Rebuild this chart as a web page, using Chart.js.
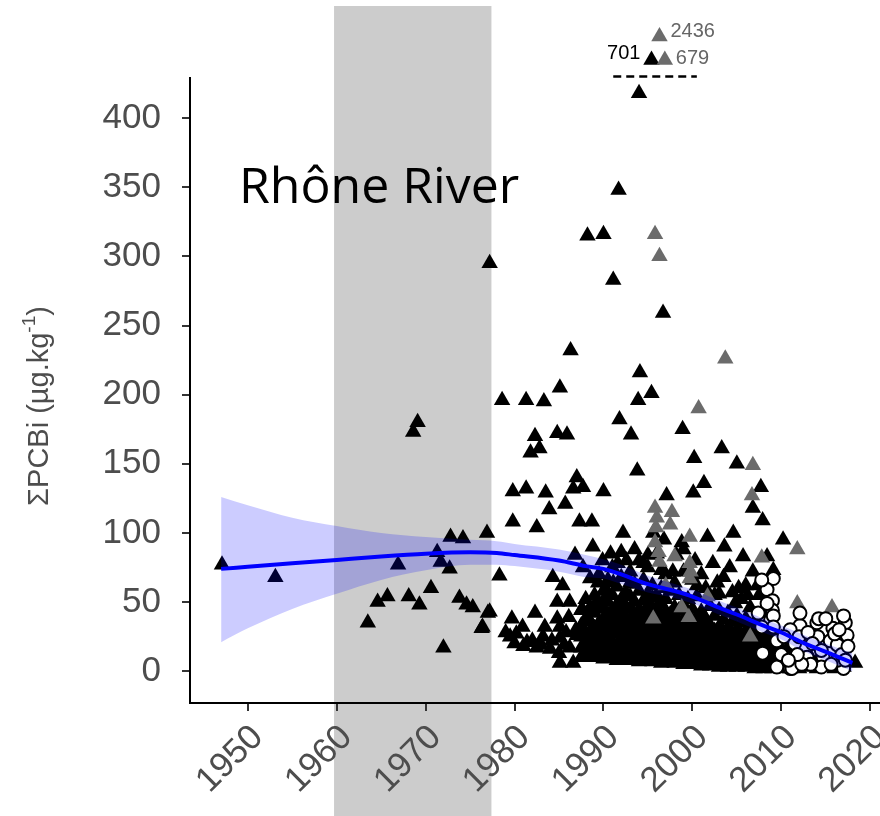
<!DOCTYPE html>
<html><head><meta charset="utf-8">
<script src="https://cdn.jsdelivr.net/npm/chart.js@4.4.0/dist/chart.umd.min.js"></script>
<style>html,body{margin:0;padding:0;background:#fff}</style>
</head><body>
<canvas id="c" width="880" height="816" style="display:block;width:880px;height:816px"></canvas>
<script>
// ---------- data ----------
const xTickValues = [1950, 1960, 1970, 1980, 1990, 2000, 2010, 2020];
const yTickValues = [0, 50, 100, 150, 200, 250, 300, 350, 400];
const shadedPeriod = [1959.7, 1977.4];
const panelLabel = "Rhône River";

// isolated black triangles [year, ΣPCBi]
const blackPoints = [
 [1947.1,77],[1953.1,68],[1963.5,35],[1964.6,50],[1965.7,54],[1966.9,77],[1968.1,54],[1968.6,173],[1969.1,180],
 [1969.3,48],[1970.6,60],[1971.3,86],[1971.7,79],[1972.0,17],[1972.7,74],[1972.8,97],[1973.8,53],[1974.2,96],
 [1974.6,48],[1975.3,46],[1976.3,31],[1976.9,100],[1977.0,42],[1977.2,295],[1978.3,69],
 [1986.3,232],[1988.2,315],[1990.0,316],[1991.7,348],[1991.1,283],[1994.0,418],[1996.7,259],[1994.1,216],
 [1995.4,201],[1993.9,196],[1985.1,205],[1978.6,196],[1981.3,196],[1983.3,195],[1991.8,182],[1993.1,171],
 [1998.9,175],[1982.3,170],[1984.8,172],[1985.9,171],[1982.8,161],[1981.8,158],[2003.3,161],[2000.2,154],
 [1993.8,145],[1987.0,140],[1986.6,132],[1987.7,133],[1979.8,130],[1981.3,132],[1983.5,129],[1990.0,130],
 [2001.3,136],[2000.1,129],[1997.1,127],[1983.9,117],[1985.7,121],[1979.8,108],[1982.5,104],[1987.3,108],
 [1988.7,108],[2005.0,150],[2007.7,133],[2006.8,118],[2007.9,109],[2010.2,95],[2004.6,100],[2001.7,97],
 [1992.2,100],[1995.6,100],[1998.8,93],[2005.7,83],[2008.4,83],[2002.3,78],[2004.2,75],[2006.8,72],
 [2009.1,73],[2000.5,62],[2004.8,49],[1988.8,90],[1986.8,84],[1987.7,75],[1992.0,86],[1992.6,80],
 [1984.3,68],[1985.4,62],[1989.4,64],[1990.2,60],[1991.1,64],[1984.8,50],[1986.2,50],[1989.3,51],
 [1990.2,53],[1977.2,43],[1976.4,32],[1979.7,38],[1982.3,42],[1984.8,38],[1986.1,39],[1980.9,32],
 [1983.4,32],[1985.1,32],[1989.3,32],[1990.7,33],[1991.8,37],[1979.5,25],[1981.4,21],[1983.2,25],
 [1985.1,24],[1987.0,26],[1988.5,20],[1990.4,22],[1992.2,22],[1982.5,17],[1986.2,17],[1989.3,15],
 [1991.5,15],[1985.1,6],[1986.6,6],[1979.0,28],[1980.0,20],[1980.2,27],[1981.0,18],[1982.0,22],
 [1983.0,19],[1984.0,16],[1984.2,22],[1985.0,13],[1985.6,19],[2013.4,9],[2018.3,6],
 [1993.5,88],[1994.5,78],[1996.5,73],[1997.8,72],[1996.8,95],[1999.0,88],[2000.3,80],[2002.8,64],
 [2003.6,90],[2005.2,60],[2006.2,55],[2007.3,62],[1989.9,80],[1990.8,85],[1991.6,78],[1998.2,84],
 [2001.0,70],[2003.0,56],[1995.0,84],[1993.0,64],[1987.6,45],[1988.3,38],[1986.9,30],[1985.8,28]
];

// dense black cloud: [year, values at that year]
const blackColumns = [
 [1987.5,[10,17,25,33,44]],[1988.0,[11,19,27,38,52]],[1988.5,[13,21,29,36,46,67]],
 [1989.0,[10,16,24,31,42,55]],[1989.5,[12,20,28,35,47,70]],[1990.0,[9,15,23,30,38,45,58]],
 [1990.5,[11,18,26,33,41,50,66]],[1991.0,[10,14,21,29,36,44,55,75]],[1991.5,[8,13,19,27,34,40,48,61]],
 [1992.0,[9,16,22,28,35,43,52,68]],[1992.5,[11,15,20,26,31,39,47,57]],[1993.0,[8,13,18,24,30,37,45,54,72]],
 [1993.5,[10,14,19,25,33,41,50,63]],[1994.0,[7,12,17,22,28,35,44,58,80]],[1994.5,[9,13,18,23,29,36,42,51,66]],
 [1995.0,[8,11,16,21,27,33,39,47,56,75]],[1995.5,[7,12,17,24,30,37,45,53,62]],[1996.0,[9,13,19,25,31,38,46,55,85]],
 [1996.5,[6,10,15,20,26,32,40,49,60]],[1997.0,[8,12,17,22,28,35,43,52,70]],[1997.5,[7,11,16,21,27,34,41,58]],
 [1998.0,[6,10,14,19,25,31,38,46,64]],[1998.5,[8,12,17,23,29,36,44,55]],[1999.0,[5,9,13,18,24,30,37,48,72]],
 [1999.5,[7,11,15,20,26,33,42,52]],[2000.0,[5,8,12,17,22,28,35,45,66]],[2000.5,[6,10,14,19,25,31,39,54]],
 [2001.0,[4,8,12,16,21,27,34,43]],[2001.5,[6,9,13,18,23,30,38,60]],[2002.0,[4,7,11,15,20,26,33,47]],
 [2002.5,[5,8,12,17,22,29,40,55]],[2003.0,[3,7,10,14,19,25,32,44]],[2003.5,[5,8,12,16,21,28,37,68]],
 [2004.0,[3,6,10,14,18,24,31,42]],[2004.5,[4,7,11,15,20,27,36,57]],[2005.0,[3,6,9,13,17,23,30,40]],
 [2005.5,[4,7,10,14,19,26,35,52]],[2006.0,[3,5,8,12,16,22,29,38,62]],[2006.5,[4,6,9,13,18,24,33,46]],
 [2007.0,[2,5,8,11,15,20,27,36]],[2007.5,[3,6,9,13,17,23,31,55]],[2008.0,[2,4,7,10,14,19,26,42]],
 [2008.5,[3,5,8,12,16,22,30]],[2009.0,[2,4,6,9,13,18,25,35]],[2009.5,[3,5,8,11,15,21]],
 [2010.0,[2,4,6,9,12,17,24]],[2010.5,[3,5,8,11,14]],[2011.0,[2,4,7,10,13,19]],[2011.5,[3,5,8]],
 [2012.0,[2,4,6,9]],[2013.0,[3,5,8]],[2014.0,[2,4,7]],[2015.0,[3,5]],[2016.0,[2,4]],[2017.0,[3]]
];

// grey triangles
const greyPoints = [
 [1995.8,316],[1996.3,300],[2003.7,226],[2000.7,190],[2006.8,149],[2006.7,127],[1995.8,118],[1997.7,115],
 [1996.0,111],[1997.5,106],[1995.9,104],[1995.8,93],[1999.7,97],[2007.8,82],[2011.8,88],[1996.3,79],
 [1996.2,86],[1998.0,83],[1999.7,78],[1999.8,72],[1999.7,67],[2001.7,54],[1995.6,38],[1998.8,46],
 [1999.6,39],[2006.5,25],[2011.8,49],[2015.7,46],[1997.0,62]
];

// open circles
const circlePoints = [
 [2009.1,67],[2008.4,59],[2009.0,51],[2009.0,44],[2008.8,37],[2007.8,66],[2008.4,49],[2007.4,42],[2009.1,40],
 [2009.1,32],[2007.8,32],[2009.5,22],[2007.9,13],[2009.5,3],[2011.0,2],[2012.5,10],[2012.1,33],[2014.0,35],
 [2015.8,31],[2017.2,35],[2011.0,30],[2014.1,25],[2015.5,22],[2012.7,17],[2016.3,19],[2017.4,26],[2012.9,10],
 [2014.7,10],[2011.2,2],[2017.0,2],[2014.5,3],[2016.3,8],[2012.1,42],[2014.2,38],[2017.0,40],[2010.0,12],
 [2010.3,25],[2011.5,20],[2012.0,25],[2013.0,28],[2013.5,20],[2014.5,15],[2015.0,38],[2016.0,27],[2016.8,12],
 [2017.5,18],[2013.3,5],[2015.6,5],[2016.5,30],[2017.2,8],[2012.3,5],[2011.8,12],[2010.8,8]
];

// smoothed trend and its confidence band
const trendYears = [1947,1950,1955,1960,1965,1970,1975,1978,1980,1985,1988,1990,1992,1995,1998,2000,2003,2005,2008,2010,2013,2015,2018];
const trendValues = [74,75.5,78,80.5,83,85,86,85.5,84,80,76,74,70,63,58,54,46,41,33,28,19,14,6];
const ciUpper = [126,120,111,105,100,97,95,94,92,88,84,81,77,69,63,59,51,46,38,33,25,20,13];
const ciLower = [21,31,45,56,66,73,77,77,76,72,68,67,63,57,53,49,41,36,28,23,13,8,0];

// values beyond the axis break (shown above the dashed line)
const outlierYears = [1995.4, 1996.9, 1996.3];
const outlierShownAt = [442, 442, 459];
const outlierTrue = ["701", "679", "2436"];
const outlierGrey = [false, true, true];
const breakSpan = [1991.1, 2000.5];
const breakLevel = 430;

// ---------- build datasets ----------
const toXY = a => a.map(p => ({x: p[0], y: p[1]}));
const blackData = toXY(blackPoints).concat(
  blackColumns.flatMap(c => c[1].map(v => ({x: c[0], y: v}))));
const trendData = trendYears.map((y, i) => ({x: y, y: trendValues[i]}));
const upperData = trendYears.map((y, i) => ({x: y, y: ciUpper[i]}));
const lowerData = trendYears.map((y, i) => ({x: y, y: ciLower[i]}));

const TXT = '#4d4d4d';
const GREY_PT = '#6b6b6b';
const FONT = '"Liberation Sans", Arial, sans-serif';
const TRI_R = 9.5;

function triangle(ctx, cx, cy, r, color) {
  ctx.fillStyle = color;
  ctx.beginPath();
  for (let k = 0; k < 3; k++) {
    const a = k * 2 * Math.PI / 3;
    const px = cx + Math.sin(a) * r, py = cy - Math.cos(a) * r;
    if (k === 0) ctx.moveTo(px, py); else ctx.lineTo(px, py);
  }
  ctx.closePath();
  ctx.fill();
}

const decor = {
  id: 'decor',
  beforeDraw(chart) {
    const {ctx, scales: {x}} = chart;
    ctx.save();
    ctx.fillStyle = '#ffffff';
    ctx.fillRect(0, 0, chart.width, chart.height);
    ctx.fillStyle = '#cccccc';
    const x0 = x.getPixelForValue(shadedPeriod[0]), x1 = x.getPixelForValue(shadedPeriod[1]);
    ctx.fillRect(x0, 6, x1 - x0, chart.height - 6);
    ctx.restore();
  },
  afterDatasetsDraw(chart) {
    const {ctx, scales: {x, y}} = chart;
    ctx.save();
    // panel label
    ctx.fillStyle = '#000';
    ctx.font = '50px "Open Sans", sans-serif';
    ctx.textBaseline = 'alphabetic';
    ctx.textAlign = 'left';
    ctx.fillText(panelLabel, x.getPixelForValue(1949.0), y.getPixelForValue(338.5));
    // axis break dashed line
    ctx.strokeStyle = '#000';
    ctx.lineWidth = 2.5;
    ctx.setLineDash([8, 5]);
    ctx.beginPath();
    const by = y.getPixelForValue(breakLevel);
    ctx.moveTo(x.getPixelForValue(breakSpan[0]), by);
    ctx.lineTo(x.getPixelForValue(breakSpan[1]), by);
    ctx.stroke();
    ctx.setLineDash([]);
    // off-scale points and their true values
    ctx.font = '20px ' + FONT;
    ctx.textBaseline = 'middle';
    outlierYears.forEach((yr, i) => {
      const px = x.getPixelForValue(yr), py = y.getPixelForValue(outlierShownAt[i]);
      triangle(ctx, px, py, TRI_R, outlierGrey[i] ? GREY_PT : '#000');
    });
    outlierYears.forEach((yr, i) => {
      const px = x.getPixelForValue(yr), py = y.getPixelForValue(outlierShownAt[i]);
      if (outlierGrey[i]) {
        ctx.fillStyle = '#666';
        ctx.textAlign = 'left';
        ctx.fillText(outlierTrue[i], px + 11, py - (i === 2 ? 5 : 2));
      } else {
        ctx.fillStyle = '#000';
        ctx.textAlign = 'right';
        ctx.fillText(outlierTrue[i], px - 11, py - 7);
      }
    });
    ctx.restore();
  },
  afterDraw(chart) {
    const {ctx} = chart;
    ctx.save();
    ctx.translate(40, 406);
    ctx.rotate(-Math.PI / 2);
    ctx.fillStyle = TXT;
    ctx.textBaseline = 'middle';
    const big = '29px ' + FONT, small = '19px ' + FONT;
    const parts = [['ΣPCBi (µg.kg', big, 0], ['-1', small, -10], [')', big, 0]];
    let total = 0;
    parts.forEach(p => { ctx.font = p[1]; total += ctx.measureText(p[0]).width; });
    let cx = -total / 2;
    ctx.textAlign = 'left';
    parts.forEach(p => { ctx.font = p[1]; ctx.fillText(p[0], cx, p[2]); cx += ctx.measureText(p[0]).width; });
    ctx.restore();
  }
};

new Chart(document.getElementById('c'), {
  type: 'scatter',
  data: {datasets: [
    {data: trendData, showLine: true, borderColor: '#0000ff', borderWidth: 4, pointRadius: 0,
     cubicInterpolationMode: 'monotone', fill: false, order: 0},
    {data: lowerData, showLine: true, borderWidth: 0, borderColor: 'rgba(0,0,0,0)', pointRadius: 0,
     cubicInterpolationMode: 'monotone', fill: false, order: 1},
    {data: upperData, showLine: true, borderWidth: 0, borderColor: 'rgba(0,0,0,0)', pointRadius: 0,
     cubicInterpolationMode: 'monotone', fill: '-1', backgroundColor: 'rgba(0,0,255,0.2)', order: 1},
    {data: toXY(circlePoints), pointStyle: 'circle', pointRadius: 6.5, backgroundColor: '#fff',
     borderColor: '#000', borderWidth: 2, order: 3},
    {data: toXY(greyPoints), pointStyle: 'triangle', pointRadius: TRI_R, backgroundColor: GREY_PT,
     borderWidth: 0, order: 4},
    {data: blackData, pointStyle: 'triangle', pointRadius: TRI_R, backgroundColor: '#000',
     borderWidth: 0, order: 5}
  ]},
  options: {
    responsive: false, animation: false, devicePixelRatio: 1,
    layout: {autoPadding: false, padding: {top: 78, left: 0, right: 0, bottom: 0}},
    plugins: {legend: {display: false}, tooltip: {enabled: false}},
    elements: {point: {hoverRadius: 0}},
    scales: {
      x: {
        type: 'linear', min: 1943.5, max: 2021.1,
        afterBuildTicks: s => { s.ticks = xTickValues.map(v => ({value: v})); },
        afterFit: s => { s.height = 113; s.paddingLeft = 0; s.paddingRight = 0; },
        ticks: {minRotation: 45, maxRotation: 45, color: TXT, padding: 6, labelOffset: 10,
                font: {family: FONT, size: 35}, callback: v => String(v)},
        grid: {drawOnChartArea: false, drawTicks: true, tickLength: 8, color: '#333', lineWidth: 2},
        border: {display: true, color: '#000', width: 2}
      },
      y: {
        type: 'linear', min: -23, max: 429,
        afterBuildTicks: s => { s.ticks = yTickValues.map(v => ({value: v})); },
        afterFit: s => { s.width = 190; s.paddingTop = 0; s.paddingBottom = 0; },
        ticks: {color: TXT, padding: 21, font: {family: FONT, size: 35}, callback: v => String(v)},
        grid: {drawOnChartArea: false, drawTicks: true, tickLength: 8, color: '#333', lineWidth: 2},
        border: {display: true, color: '#000', width: 2}
      }
    }
  },
  plugins: [decor]
});
</script>
</body></html>
